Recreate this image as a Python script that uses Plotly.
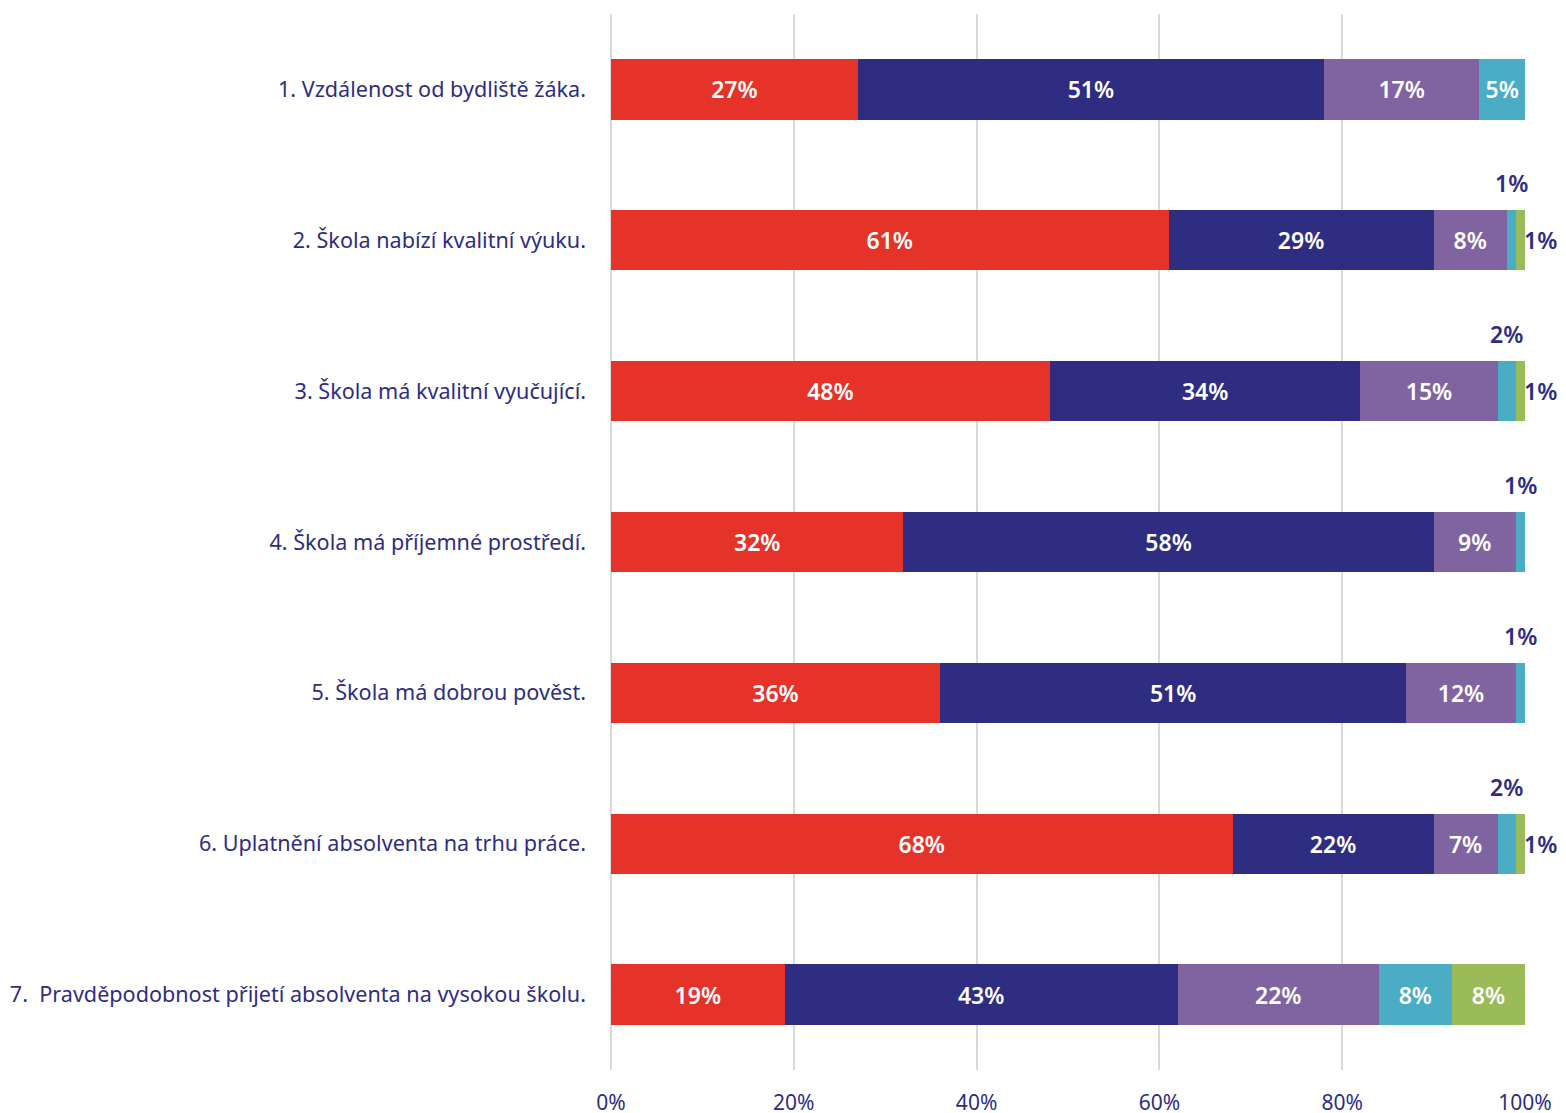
import plotly.graph_objects as go

categories = [
    "1. Vzdálenost od bydliště žáka.",
    "2. Škola nabízí kvalitní výuku.",
    "3. Škola má kvalitní vyučující.",
    "4. Škola má příjemné prostředí.",
    "5. Škola má dobrou pověst.",
    "6. Uplatnění absolventa na trhu práce.",
    "7.  Pravděpodobnost přijetí absolventa na vysokou školu.",
]

s1 = [27, 61, 48, 32, 36, 68, 19]
s2 = [51, 29, 34, 58, 51, 22, 43]
s3 = [17, 8, 15, 9, 12, 7, 22]
s4 = [5, 1, 2, 1, 1, 2, 8]
s5 = [0, 1, 1, 0, 0, 1, 8]

colors = ["#E5332A", "#2E2D82", "#8064A2", "#4BACC6", "#9BBB59"]
navy = "#2E2D82"
font_family = "Noto Sans"

series = [s1, s2, s3, s4, s5]

fig = go.Figure()

for vals, col in zip(series, colors):
    # Only label segments wide enough to hold the text inside
    text = [f"{v}%" if v >= 5 else "" for v in vals]
    fig.add_trace(go.Bar(
        y=categories,
        x=vals,
        orientation="h",
        marker=dict(color=col, line_width=0),
        text=text,
        textposition="inside",
        insidetextanchor="middle",
        textangle=0,
        textfont=dict(color="white", size=23, family=font_family, weight=600),
        hoverinfo="skip",
        showlegend=False,
    ))

# Small segments get labels outside the bar
for i, cat in enumerate(categories):
    left = s1[i] + s2[i] + s3[i]
    if 0 < s4[i] < 5:
        fig.add_annotation(
            x=left + s4[i] / 2, y=cat, text=f"{s4[i]}%", showarrow=False,
            yshift=57, xanchor="center",
            font=dict(color=navy, size=23, family=font_family, weight=600),
        )
    if 0 < s5[i] < 5:
        fig.add_annotation(
            x=left + s4[i] + s5[i], y=cat, text=f"{s5[i]}%", showarrow=False,
            xanchor="left", xshift=-3,
            font=dict(color=navy, size=23, family=font_family, weight=600),
        )

# page body adds an 8px offset, so margins are shifted to compensate
fig.update_layout(
    barmode="stack",
    bargap=0.6,
    width=1566,
    height=1113,
    margin=dict(l=603, r=49, t=6, b=51),
    plot_bgcolor="white",
    paper_bgcolor="white",
    font=dict(family=font_family, color=navy, size=21),
    uniformtext=dict(mode="show", minsize=10),
    xaxis=dict(
        range=[0, 100],
        tickvals=[0, 20, 40, 60, 80, 100],
        ticktext=["0%", "20%", "40%", "60%", "80%", "100%"],
        showgrid=True,
        gridcolor="#D9D9D9",
        gridwidth=2,
        zeroline=True,
        zerolinecolor="#D9D9D9",
        zerolinewidth=2,
        showline=False,
        ticks="",
        ticklabelstandoff=18,
        automargin=False,
        tickfont=dict(size=21, color=navy),
    ),
    yaxis=dict(
        autorange="reversed",
        showgrid=False,
        zeroline=False,
        showline=False,
        ticks="",
        ticklabelstandoff=24,
        automargin=False,
        tickfont=dict(size=21.6, color=navy),
    ),
)

fig.write_html("out.html")
